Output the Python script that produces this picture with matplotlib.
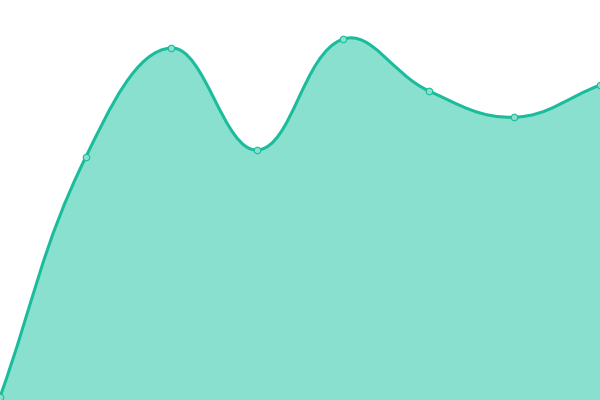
import numpy as np
import matplotlib
matplotlib.use("Agg")
import matplotlib.pyplot as plt
from matplotlib.path import Path
from matplotlib.patches import PathPatch

# Data
labels = ["1", "2", "3", "4", "5", "6", "7", "8"]
values = [0.75, 60.7, 88.0, 62.5, 90.2, 77.3, 70.7, 78.7]

line_color = "#1abc9c"
fill_color = "#8ae0cf"
tension = 0.4

fig = plt.figure(figsize=(6, 4), dpi=100)
ax = fig.add_axes([0, 0, 1, 1])
ax.set_xlim(0, len(values) - 1)
ax.set_ylim(0, 100)
ax.axis("off")

xs = np.arange(len(values), dtype=float)
ys = np.array(values, dtype=float)
pts = ax.transData.transform(np.column_stack([xs, ys]))

# Chart.js-style cardinal spline control points in pixel space
n = len(pts)
cp_prev = np.zeros_like(pts)
cp_next = np.zeros_like(pts)
for i in range(n):
    cur = pts[i]
    prev = pts[i - 1] if i > 0 else cur
    nxt = pts[i + 1] if i < n - 1 else cur
    d01 = np.hypot(*(cur - prev))
    d12 = np.hypot(*(nxt - cur))
    tot = d01 + d12
    s01 = d01 / tot if tot else 0
    s12 = d12 / tot if tot else 0
    fa = tension * s01
    fb = tension * s12
    cp_prev[i] = cur - fa * (nxt - prev)
    cp_next[i] = cur + fb * (nxt - prev)

inv = ax.transData.inverted()
P = inv.transform(pts)
CPn = inv.transform(cp_next)
CPp = inv.transform(cp_prev)

verts = [P[0]]
codes = [Path.MOVETO]
for i in range(n - 1):
    verts += [CPn[i], CPp[i + 1], P[i + 1]]
    codes += [Path.CURVE4] * 3

line_path = Path(verts, codes)
fill_verts = verts + [(xs[-1], 0), (xs[0], 0), P[0]]
fill_codes = codes + [Path.LINETO, Path.LINETO, Path.CLOSEPOLY]
fill_path = Path(fill_verts, fill_codes)

ax.add_patch(PathPatch(fill_path, facecolor=fill_color, edgecolor="none", zorder=1))
ax.add_patch(PathPatch(line_path, facecolor="none", edgecolor=line_color, lw=2.2, zorder=2, clip_on=False))
ax.scatter(xs, ys, s=22, facecolor=fill_color, edgecolor=line_color, linewidth=0.8, zorder=3, clip_on=False)

fig.savefig("out.png", dpi=100)
